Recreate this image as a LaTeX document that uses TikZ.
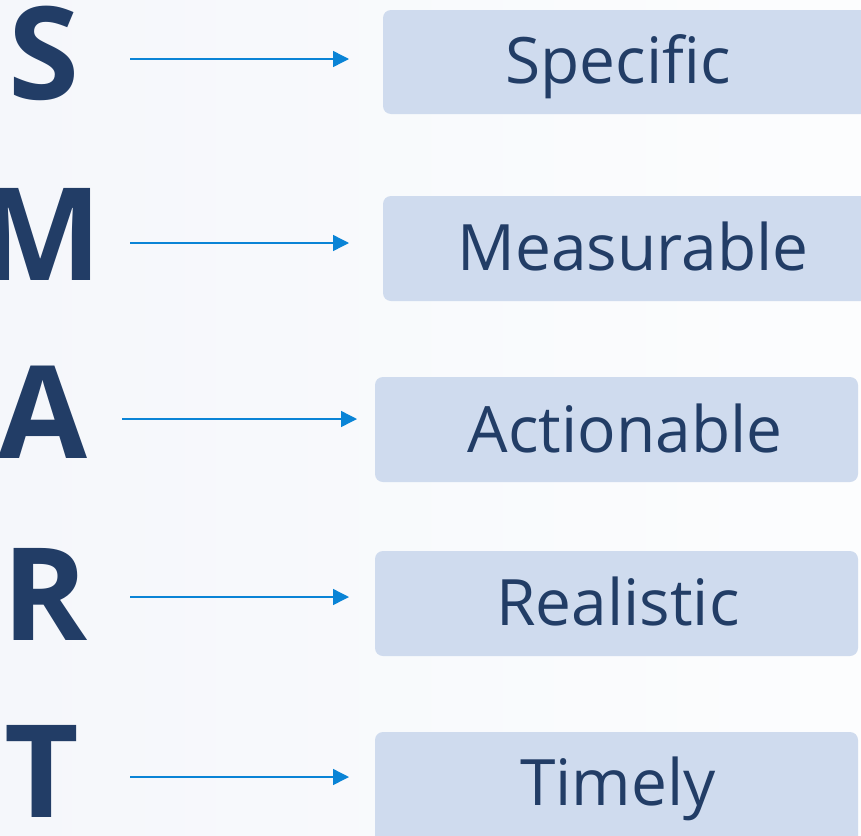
\documentclass[tikz,border=0pt]{standalone}
\usepackage{fontspec}
\setmainfont{Open Sans}
\usetikzlibrary{arrows.meta}
\definecolor{bgA}{HTML}{F5F7FB}
\definecolor{bgB}{HTML}{FCFDFE}
\definecolor{boxfill}{HTML}{CFDBEE}
\definecolor{ink}{HTML}{223D66}
\definecolor{arrowblue}{HTML}{0A84D6}
\tikzset{
  letter/.style={inner sep=0pt, anchor=base, text=ink, font=\fontsize{129}{129}\selectfont\bfseries},
  card/.style={fill=boxfill, rounded corners=8pt, draw=none},
  cardtext/.style={inner sep=0pt, anchor=base, text=ink, font=\fontsize{64}{64}\selectfont},
  conn/.style={draw=arrowblue, line width=1.4pt, -{Triangle[length=16pt,width=16pt]}}
}
\begin{document}
\begin{tikzpicture}[x=1pt,y=-1pt]
\useasboundingbox (0,0) rectangle (861,835);
\clip (0,0) rectangle (861,835);
\shade[left color=bgA, right color=bgB] (0,0) rectangle (861,835);
% cards
\path[card] (383,10) rectangle (875,114);
\path[card] (383,196) rectangle (875,301);
\path[card] (375,377) rectangle (858,482);
\path[card] (375,551) rectangle (858,656);
\path[card] (375,732) rectangle (858,845);
% card texts
\node[cardtext] (tS) at (618,83) {Specific};
\node[cardtext] (tM) at (633,270) {Measurable};
\node[cardtext] (tA) at (625,452) {Actionable};
\node[cardtext] (tR) at (618,625) {Realistic};
\node[cardtext] (tT) at (618,805) {Timely};
% letters
\node[letter] (S) at (44,99) {S};
\node[letter] (M) at (41,280) {M};
\node[letter] (A) at (43,458) {A};
\node[letter] (R) at (45,640) {R};
\node[letter] (T) at (42,817) {T};
% arrow endpoints
\coordinate (sS) at (130,59);  \coordinate (eS) at (349,59);
\coordinate (sM) at (130,243); \coordinate (eM) at (349,243);
\coordinate (sA) at (122,419); \coordinate (eA) at (357,419);
\coordinate (sR) at (130,597); \coordinate (eR) at (349,597);
\coordinate (sT) at (130,777); \coordinate (eT) at (349,777);
\draw[conn] (sS) -- (eS);
\draw[conn] (sM) -- (eM);
\draw[conn] (sA) -- (eA);
\draw[conn] (sR) -- (eR);
\draw[conn] (sT) -- (eT);
\end{tikzpicture}
\end{document}
